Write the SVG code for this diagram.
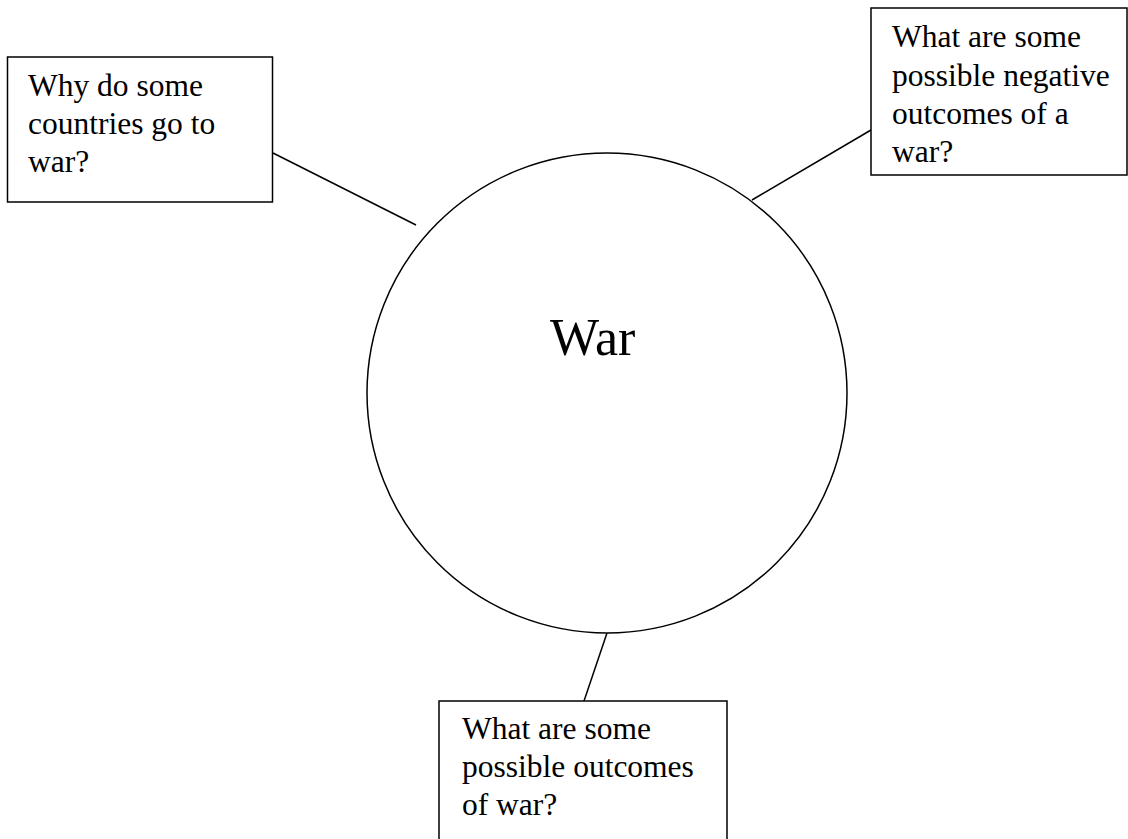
<svg xmlns="http://www.w3.org/2000/svg" width="1128" height="839" viewBox="0 0 1128 839">
<style>
.box{fill:#fff;stroke:#000;stroke-width:1.5}
.t{font-family:"Liberation Serif","Times New Roman",serif;font-size:31.5px;fill:#000}
.c{stroke:#000;stroke-width:1.5;fill:none}
</style>
<rect width="1128" height="839" fill="#fff"/>
<g id="connectors">
<line class="c" x1="273" y1="153" x2="416" y2="225"/>
<line class="c" x1="752" y1="200" x2="871" y2="130"/>
<line class="c" x1="607" y1="633" x2="584" y2="701"/>
</g>
<g id="center">
<circle class="box" cx="607" cy="393" r="240"/>
<text x="550" y="355" style="font-family:'Liberation Serif','Times New Roman',serif;font-size:52px">War</text>
</g>
<g id="node-why">
<rect class="box" x="7.5" y="57" width="265" height="145"/>
<text class="t" x="28" y="96">Why do some</text>
<text class="t" x="28" y="134">countries go to</text>
<text class="t" x="28" y="172">war?</text>
</g>
<g id="node-negative">
<rect class="box" x="871" y="8" width="256" height="167"/>
<text class="t" x="892" y="47">What are some</text>
<text class="t" x="892" y="86">possible negative</text>
<text class="t" x="892" y="124">outcomes of a</text>
<text class="t" x="892" y="162">war?</text>
</g>
<g id="node-outcomes">
<rect class="box" x="439" y="701" width="288" height="200"/>
<text class="t" x="462" y="739">What are some</text>
<text class="t" x="462" y="777">possible outcomes</text>
<text class="t" x="462" y="815">of war?</text>
</g>
</svg>
